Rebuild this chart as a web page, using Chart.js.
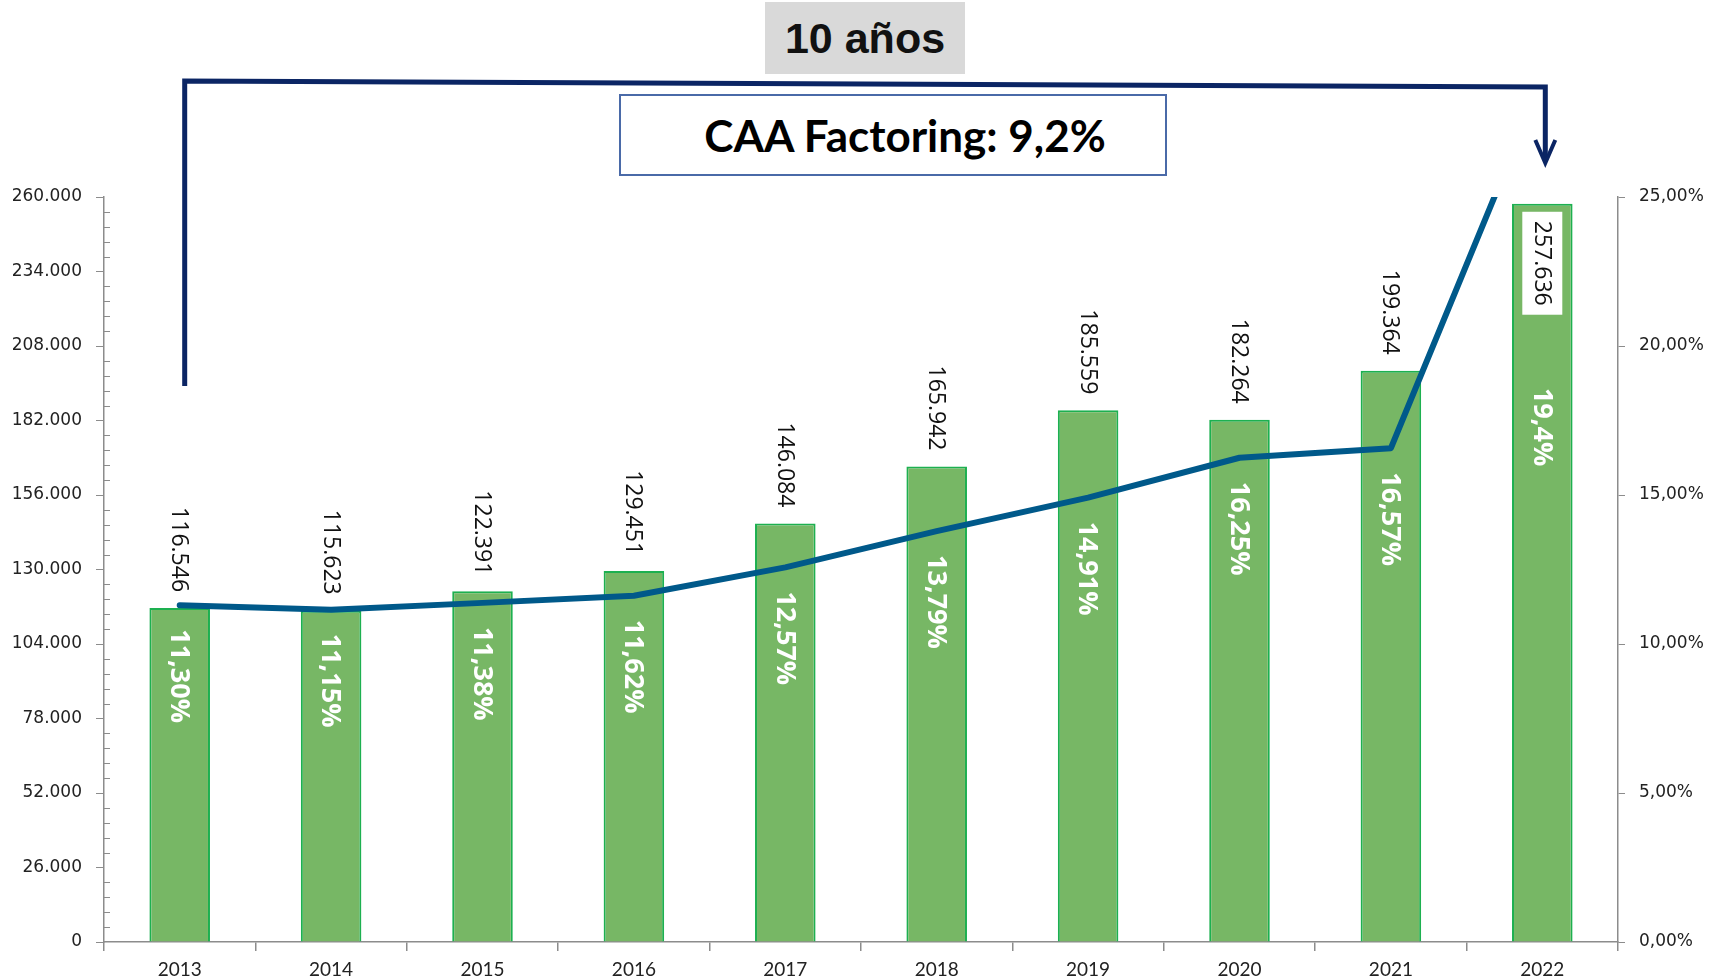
<!DOCTYPE html>
<html lang="es">
<head>
<meta charset="utf-8">
<title>CAA Factoring</title>
<script src="https://cdn.jsdelivr.net/npm/chart.js@4.4.1/dist/chart.umd.min.js"></script>
<style>
  html, body { margin: 0; padding: 0; background: #fff; }
  #wrap { position: relative; width: 1713px; height: 979px; }
  #years {
    position: absolute; left: 765px; top: 2px; width: 200px; height: 72px;
    background: #d9d9d9; color: #111;
    font: bold 43px "Liberation Sans", Arial, sans-serif;
    display: flex; align-items: center; justify-content: center;
  }
  #caa {
    position: absolute; left: 619px; top: 94px; height: 78px;
    border: 2px solid #4a6aa8; background: #fff; color: #000;
    font: bold 44px Lato, sans-serif;
    display: flex; align-items: center; justify-content: center;
    padding-left: 24px; box-sizing: content-box; width: 520px;
  }
</style>
</head>
<body>
<div id="wrap">
  <canvas id="chart" width="1713" height="979"></canvas>
  <div id="years">10 años</div>
  <div id="caa">CAA Factoring: 9,2%</div>
</div>
<script>
// Datos
const years = ['2013', '2014', '2015', '2016', '2017', '2018', '2019', '2020', '2021', '2022'];
const volume = [116546, 115623, 122391, 129451, 146084, 165942, 185559, 182264, 199364, 257636];
const lineValues = [11.30, 11.15, 11.38, 11.62, 12.57, 13.79, 14.91, 16.25, 16.57, 28.9];
const rateLabels = ['11,30%', '11,15%', '11,38%', '11,62%', '12,57%', '13,79%', '14,91%', '16,25%', '16,57%', '19,4%'];
const leftMax = 260000, leftStep = 26000, leftMinor = 5200;
const rightMax = 25, rightStep = 5;

const axisGrey = '#8c8c8c';

function fmtMiles(v) {
    return String(Math.round(v)).replace(/\B(?=(\d{3})+(?!\d))/g, '.');
}

// etiquetas de datos giradas
const labelsPlugin = {
    id: 'dataLabels',
    afterDatasetsDraw(chart) {
        const ctx = chart.ctx;
        const area = chart.chartArea;
        const y1 = chart.scales.y1;
        const bars = chart.getDatasetMeta(1).data;

        ctx.save();
        bars.forEach((bar, i) => {
            const text = fmtMiles(volume[i]);
            ctx.font = '23px "Open Sans"';
            const w = ctx.measureText(text).width;
            ctx.save();
            if (bar.y - 16 - w < area.top) {
                // no cabe encima: dentro de la barra con fondo blanco
                ctx.translate(bar.x, bar.y + 9);
                ctx.rotate(Math.PI / 2);
                ctx.fillStyle = '#fff';
                ctx.fillRect(-1, -20, w + 18, 40);
                ctx.fillStyle = '#111';
                ctx.textAlign = 'left';
                ctx.textBaseline = 'middle';
                ctx.fillText(text, 8, 1);
            } else {
                ctx.translate(bar.x, bar.y - 16);
                ctx.rotate(Math.PI / 2);
                ctx.fillStyle = '#111';
                ctx.textAlign = 'right';
                ctx.textBaseline = 'middle';
                ctx.fillText(text, 0, 1);
            }
            ctx.restore();

            // porcentaje en blanco bajo el punto de la línea
            const val = parseFloat(rateLabels[i].replace(',', '.'));
            ctx.save();
            ctx.translate(bar.x, y1.getPixelForValue(val) + 24);
            ctx.rotate(Math.PI / 2);
            ctx.font = 'bold 27px "Open Sans"';
            ctx.fillStyle = '#fff';
            ctx.textAlign = 'left';
            ctx.textBaseline = 'middle';
            ctx.fillText(rateLabels[i], 0, 1);
            ctx.restore();
        });
        ctx.restore();
    }
};

// marcas menores del eje izquierdo + corchete de 10 años
const extrasPlugin = {
    id: 'extras',
    afterDraw(chart) {
        const ctx = chart.ctx;
        const ys = chart.scales.y;
        const xs = chart.scales.x;
        const left = chart.chartArea.left;

        ctx.save();
        ctx.strokeStyle = axisGrey;
        ctx.lineWidth = 1;
        for (let v = leftMinor; v < leftMax; v += leftMinor) {
            if (v % leftStep === 0) continue;
            const y = Math.round(ys.getPixelForValue(v)) + 0.5;
            ctx.beginPath();
            ctx.moveTo(left, y);
            ctx.lineTo(left + 6, y);
            ctx.stroke();
        }

        const x0 = xs.getPixelForValue(0) + 5;
        const x1 = xs.getPixelForValue(years.length - 1) + 3;
        ctx.strokeStyle = '#0b2564';
        ctx.lineWidth = 5;
        ctx.lineJoin = 'miter';
        ctx.beginPath();
        ctx.moveTo(x0, 386);
        ctx.lineTo(x0, 81);
        ctx.lineTo(x1, 87);
        ctx.lineTo(x1, 160);
        ctx.stroke();
        ctx.lineWidth = 4;
        ctx.beginPath();
        ctx.moveTo(x1 - 10, 140);
        ctx.lineTo(x1, 163);
        ctx.lineTo(x1 + 10, 140);
        ctx.stroke();
        ctx.restore();
    }
};

new Chart(document.getElementById('chart'), {
    type: 'bar',
    data: {
        labels: years,
        datasets: [
            {
                type: 'line',
                data: lineValues,
                yAxisID: 'y1',
                borderColor: '#00598a',
                borderWidth: 6,
                pointRadius: 0,
                tension: 0,
                borderCapStyle: 'round',
                borderJoinStyle: 'round',
                clip: 0,
                order: 0
            },
            {
                type: 'bar',
                data: volume,
                yAxisID: 'y',
                backgroundColor: '#77b765',
                borderColor: '#1db050',
                borderWidth: 2,
                categoryPercentage: 1,
                barPercentage: 0.4,
                order: 1
            }
        ]
    },
    options: {
        responsive: false,
        animation: false,
        layout: { padding: { top: 197, left: 0, right: 0, bottom: 0 } },
        plugins: { legend: { display: false }, tooltip: { enabled: false } },
        scales: {
            x: {
                grid: { offset: true, drawOnChartArea: false, tickLength: 9, color: axisGrey, lineWidth: 1.5 },
                border: { color: axisGrey, width: 1.5 },
                ticks: { font: { family: 'Lato', size: 19 }, color: '#222', padding: 7 },
                afterFit: s => { s.height = 37; }
            },
            y: {
                position: 'left',
                min: 0, max: leftMax,
                grid: { drawOnChartArea: false, tickLength: 8, color: axisGrey },
                border: { color: axisGrey, width: 1.5 },
                ticks: { stepSize: leftStep, callback: v => fmtMiles(v), font: { family: 'DejaVu Sans', size: 17 }, color: '#222', padding: 14 },
                afterFit: s => { s.width = 104; }
            },
            y1: {
                position: 'right',
                min: 0, max: rightMax,
                grid: { drawOnChartArea: false, tickLength: 7, color: axisGrey },
                border: { color: axisGrey, width: 1.5 },
                ticks: { stepSize: rightStep, callback: v => v.toFixed(2).replace('.', ',') + '%', font: { family: 'DejaVu Sans', size: 17 }, color: '#222', padding: 14 },
                afterFit: s => { s.width = 95; }
            }
        }
    },
    plugins: [labelsPlugin, extrasPlugin]
});
</script>
</body>
</html>
